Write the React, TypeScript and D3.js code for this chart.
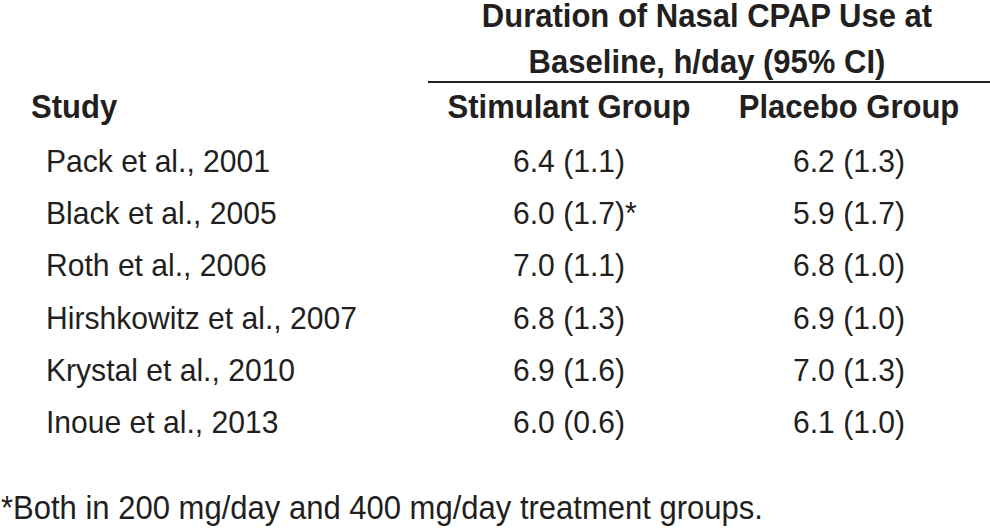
import React from "react";
import * as d3 from "d3";

const studies = [
  "Pack et al., 2001",
  "Black et al., 2005",
  "Roth et al., 2006",
  "Hirshkowitz et al., 2007",
  "Krystal et al., 2010",
  "Inoue et al., 2013",
];
const stimulantValues = ["6.4 (1.1)", "6.0 (1.7)", "7.0 (1.1)", "6.8 (1.3)", "6.9 (1.6)", "6.0 (0.6)"];
const stimulantMarks = ["", "*", "", "", "", ""];
const placeboValues = ["6.2 (1.3)", "5.9 (1.7)", "6.8 (1.0)", "6.9 (1.0)", "7.0 (1.3)", "6.1 (1.0)"];
const columnHeaders = ["Study", "Stimulant Group", "Placebo Group"];
const spanHeaderLines = ["Duration of Nasal CPAP Use at", "Baseline, h/day (95% CI)"];
const footnote = "*Both in 200 mg/day and 400 mg/day treatment groups.";

const W = 990;
const H = 528;
const INK = "#231f20";
const FONT = "'Liberation Sans', Arial, Helvetica, sans-serif";
const SX = 0.94;

function T({
  x,
  y,
  size,
  bold,
  anchor,
  children,
}: {
  x: number;
  y: number;
  size: number;
  bold?: boolean;
  anchor?: "start" | "middle" | "end";
  children: React.ReactNode;
}) {
  return (
    <g transform={`translate(${x},${y}) scale(${SX},1)`}>
      <text x={0} y={0} fontSize={size} fontWeight={bold ? "bold" : "normal"} textAnchor={anchor || "start"} fill={INK}>
        {children}
      </text>
    </g>
  );
}

export default function App() {
  const rowY = d3.scalePoint<string>().domain(studies).range([172, 433]);
  const colX = d3
    .scaleOrdinal<string, number>()
    .domain(["stimulant", "placebo"])
    .range([569, 849]);
  const valueHalfWidth = 56;

  return (
    <svg
      width={W}
      height={H}
      viewBox={`0 0 ${W} ${H}`}
      style={{ position: "absolute", left: 0, top: 0, display: "block", background: "#fff" }}
      fontFamily={FONT}
    >
      <rect x={0} y={0} width={W} height={H} fill="#fff" />
      {spanHeaderLines.map((t, i) => (
        <T key={t} x={707} y={27 + i * 46} size={33} bold anchor="middle">
          {t}
        </T>
      ))}
      <line x1={428} x2={990} y1={82} y2={82} stroke={INK} strokeWidth={2} />
      <T x={31} y={118} size={33} bold>
        {columnHeaders[0]}
      </T>
      <T x={colX("stimulant")} y={118} size={33} bold anchor="middle">
        {columnHeaders[1]}
      </T>
      <T x={colX("placebo")} y={118} size={33} bold anchor="middle">
        {columnHeaders[2]}
      </T>
      {studies.map((s, i) => (
        <g key={s}>
          <T x={46} y={rowY(s) as number} size={32}>
            {s}
          </T>
          <T x={colX("stimulant") - valueHalfWidth} y={rowY(s) as number} size={32}>
            {stimulantValues[i]}
            {stimulantMarks[i]}
          </T>
          <T x={colX("placebo") - valueHalfWidth} y={rowY(s) as number} size={32}>
            {placeboValues[i]}
          </T>
        </g>
      ))}
      <T x={1} y={519} size={33}>
        {footnote}
      </T>
    </svg>
  );
}
